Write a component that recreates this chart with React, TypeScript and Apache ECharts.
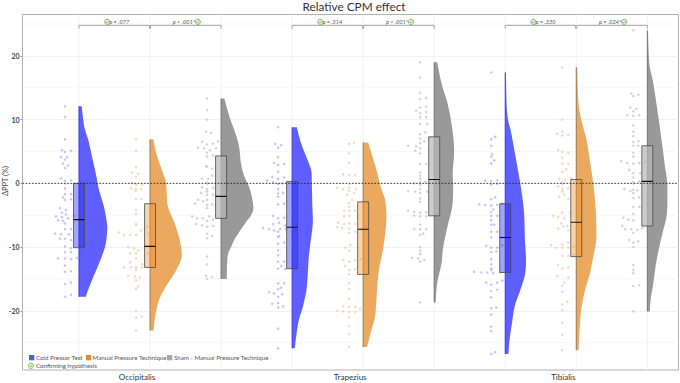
import React, { useEffect, useRef } from "react";
import * as echarts from "echarts";

const FONT = "Lato, 'Open Sans', sans-serif";
const muscles = ["Occipitalis", "Trapezius", "Tibialis"];
const conditions = ["Cold Pressor Test", "Manual Pressure Technique", "Sham - Manual Pressure Technique"];
const confirmLabel = "Confirming hypothesis";
const yTicks = [-20, -10, 0, 10, 20];
const yMinor = [-25, -15, -5, 5, 15, 25];
const baselines = [1, 2, 3, 4, 5, 6, 7, 8, 9];
const pLabels = ["p = .077", "p < .001*", "p = .514", "p < .001*", "p = .330", "p = .024*"];

// scatter: [jitter step, ΔPPT]
const pts1 = [[0,12.1],[0,10.4],[0,6.9],[-3,5.2],[6,5.1],[0,4.9],[-4,4.1],[2,4.1],[0,3.7],[-2,3.1],[3,2.8],[0,2.4],[-4,.8],[0,.4],[6,.5],[0,-.8],[0,-1.7],[6,-1.7],[-2,-2.2],[6,-2.5],[0,-2.6],[-5,-3.9],[1,-4.2],[-3,-4.6],[-9,-5.2],[-3,-5.3],[1,-4.9],[3,-5.5],[-7,-5.8],[-2,-5.9],[9,-5.1],[0,-6.3],[6,-7.2],[0,-7.2],[-10,-7.9],[-4,-8],[4,-8],[-5,-8.7],[0,-8.7],[6,-8.9],[0,-9.9],[6,-10.2],[6,-10.8],[0,-10.8],[0,-11.8],[-7,-11.8],[6,-11.9],[12,-11.7],[0,-12.9],[6,-13.8],[0,-13.9],[6,-15.6],[0,-15.8],[0,-17.8],[6,-17.5]];
const pts2 = [[0,6.9],[0,5.1],[0,2.5],[-4,1.7],[2,1.5],[0,1],[-4,0],[6,-.2],[0,-.3],[-5,-.8],[5,-.9],[0,-.9],[0,-1.2],[0,-2.5],[5,-2.5],[0,-4.2],[0,-4.8],[0,-6.5],[-17,-7.7],[-12,-8.1],[-6,-8.1],[0,-6.4],[5,-7.4],[12,-7.9],[0,-8.1],[11,-6.8],[-8,-10],[-2,-10.2],[2,-10.6],[-6,-11],[0,-11],[12,-11],[0,-11.8],[6,-12.7],[-6,-12.4],[-12,-13.2],[-5,-13.2],[0,-13.2],[6,-13.2],[0,-13.6],[-8,-14.5],[-1,-14.6],[4,-14.8],[0,-15.2],[2,-16.2],[0,-16.6],[0,-20],[6,-20.9],[0,-21.1],[0,-23.1]];
const pts3 = [[0,13.3],[0,11.5],[0,10],[-1,8.1],[4,7.9],[-5,6.5],[0,6.1],[6,6.2],[11,6.6],[-9,5.6],[-3,5.5],[3,5.2],[9,5.5],[0,4.8],[0,4.2],[6,4.4],[0,2.6],[5,2.3],[-1,2.7],[5,1.2],[-5,.7],[1,.7],[0,.1],[-5,-.6],[0,-.9],[6,-.7],[-6,-1.5],[0,-1.3],[0,-1.8],[6,-1.8],[0,-2.6],[-9,-2.6],[-4,-2.8],[-12,-3.2],[0,-3.4],[5,-3.3],[9,-3.4],[0,-3.9],[-15,-5.2],[-10,-5.5],[-4,-5.5],[2,-5.2],[0,-5.9],[6,-5.7],[-11,-6.4],[-5,-6.6],[0,-6.8],[6,-6.7],[0,-7.9],[5,-8.3],[0,-8.6],[0,-11.5],[0,-12.7],[-1,-14.5],[5,-14.7],[0,-15]];
const pts4 = [[0,8.8],[-3,6.2],[3,6],[0,5.6],[0,4.1],[-4,3.2],[0,2.9],[6,3],[0,1.8],[6,.9],[-6,1],[0,.7],[-11,.4],[-5,.2],[0,-.1],[4,0],[0,-.9],[0,-1.6],[5,-1.5],[0,-2.1],[6,-3.2],[0,-3.3],[-5,-5.1],[0,-5.5],[6,-5.4],[-5,-6.4],[1,-6.2],[7,-6.6],[-15,-7],[-9,-7.2],[-4,-7.4],[2,-7.2],[8,-7.2],[0,-7.6],[1,-8.3],[0,-8.4],[0,-9.5],[6,-9.3],[0,-10.5],[0,-11.3],[0,-12.3],[6,-12.3],[3,-13],[0,-13.4],[7,-13.5],[0,-15.7],[6,-15.7],[3,-16.4],[0,-16.6],[-9,-17.1],[-4,-17.3],[4,-17.4],[0,-17.8],[-6,-18.9],[0,-18.8],[0,-19.5],[5,-19.3],[0,-22.8],[0,-25.9]];
const pts5 = [[0,6.2],[5,6.4],[0,4.7],[0,3.2],[-6,1.4],[0,1.3],[6,1.3],[-12,-.7],[-6,-.9],[0,-.7],[7,-.9],[0,-1.2],[5,-1.5],[-2,-1.8],[3,-2.6],[0,-3.1],[0,-3.7],[-5,-4.3],[0,-4.3],[6,-4.3],[0,-5.1],[-5,-5.2],[-11,-6.2],[-5,-6.4],[0,-6.3],[6,-6.4],[-12,-6.9],[-7,-7],[0,-7.1],[0,-7.8],[6,-7.6],[12,-7.2],[1,-9.7],[-4,-10.1],[0,-10.6],[-6,-12],[0,-12.3],[6,-12.1],[12,-11.9],[-4,-13],[0,-13.6],[6,-13.5],[0,-14.3],[0,-15.7],[0,-16.6],[0,-18.1],[-6,-19.3],[0,-19.4],[6,-19.4],[-12,-20],[-6,-20.1],[0,-20.2],[6,-20.2],[11,-19.7],[0,-21],[0,-22.4],[0,-23.7],[0,-25.7]];
const pts6 = [[0,19],[0,16.6],[0,14.2],[0,13.2],[6,13.4],[0,11.9],[6,12],[-4,11.4],[0,11],[6,11.2],[0,10.4],[6,10.4],[0,9.3],[7,9.3],[0,7.7],[5,8],[0,7],[0,6.3],[4,6.6],[-4,5.8],[-12,5.9],[-5,5.1],[0,5.5],[0,4.7],[0,3],[6,3],[0,1.7],[0,1.2],[0,.7],[-6,0],[0,.2],[0,-.3],[5,.2],[0,-.9],[-12,-1.2],[-5,-1.3],[0,-1.5],[0,-2.4],[7,-1.3],[0,-2.9],[-12,-4.3],[-6,-4.5],[0,-4.6],[6,-4.5],[0,-5.2],[-6,-5.1],[6,-5.2],[0,-6.5],[-6,-7.2],[0,-7.2],[6,-7.2],[3,-7.9],[0,-8.1],[0,-10],[0,-10.6],[0,-11.1],[-8,-11.7],[-2,-11.8],[0,-12.3],[4,-12],[0,-18.7]];
const pts7 = [[0,17.4],[0,6.9],[4,7.3],[0,5.9],[1,4.6],[0,4.2],[3,3.6],[0,3.1],[-6,.4],[0,.4],[6,.5],[0,-.2],[6,-.1],[4,-2.2],[0,-2.5],[-12,-3.3],[-6,-3.4],[0,-3.5],[6,-3.4],[11,-3.2],[2,-4.1],[0,-4.5],[6,-5.1],[0,-5.1],[0,-5.8],[3,-6.5],[0,-6.5],[0,-7.6],[6,-7.6],[0,-8.5],[11,-8.5],[-5,-9.8],[11,-9.7],[0,-10.1],[6,-10.1],[0,-10.8],[5,-10.7],[0,-11.9],[0,-12.7],[0,-13.4],[-17,-13.9],[-10,-14],[-4,-14],[0,-13.6],[2,-14.1],[9,-14],[-5,-15.6],[0,-15.9],[6,-15.6],[11,-15.3],[6,-16.7],[0,-16.9],[0,-17.9],[0,-19.6],[5,-19.5],[0,-20.6],[0,-22.5],[0,-23.2],[0,-26.8],[4,-26.5]];
const pts8 = [[0,18.2],[0,10],[-5,7.8],[0,8.1],[0,7.5],[6,7.6],[-4,5.2],[6,4.8],[0,4.9],[0,4],[0,3.1],[6,3.1],[4,2.2],[0,1.8],[-3,.7],[3,.5],[9,.8],[0,.2],[-4,-.5],[6,-.8],[0,-.9],[0,-1.3],[2,-1.8],[-3,-2.1],[6,-2.5],[-9,-5.1],[0,-4.6],[-4,-5.3],[2,-5.5],[8,-4.6],[-1,-6.3],[5,-6.7],[1,-6.8],[-4,-7.1],[6,-7.4],[-11,-9.7],[-6,-10.1],[0,-10.1],[6,-9.3],[6,-10.1],[0,-9.6],[12,-10],[0,-11.4],[6,-11.4],[12,-11.2],[-4,-12.8],[0,-13.4],[6,-13.2],[-5,-14.6],[6,-14.8],[2,-15.6],[0,-16.1],[0,-17],[0,-19],[5,-18.6],[0,-19.9],[0,-21.9],[0,-23.8],[0,-26.2]];
const pts9 = [[0,24],[-2,14.1],[0,13.7],[5,13.9],[-3,11.9],[3,11.7],[0,11.3],[-6,10.7],[0,10.6],[6,10.7],[0,9.1],[0,8.1],[0,7.4],[5,6.6],[0,6.5],[0,5.9],[5,5.9],[0,4.8],[0,4.2],[-12,3.5],[-6,3.2],[0,3.1],[6,3.2],[12,3.4],[-4,2.1],[0,1.6],[7,1.6],[0,.9],[0,.2],[6,.3],[-9,-.9],[0,-1],[-3,-1.2],[0,-1.5],[4,-1.1],[0,-2.3],[6,-2.2],[0,-3.7],[6,-3.7],[0,-4.8],[-10,-5.4],[-5,-5.7],[0,-5.8],[-11,-6.7],[-8,-7.2],[-2,-7.2],[4,-7.3],[0,-7.8],[9,-7],[-4,-8.9],[5,-9.1],[0,-9.3],[0,-10],[0,-12.8],[0,-13.6],[0,-14.1],[0,-16.1],[6,-16],[0,-20.1]];
const pointGroups = [pts1, pts2, pts3, pts4, pts5, pts6, pts7, pts8, pts9];

// half-violin density outlines: [ΔPPT, density]
const vio1 = [[12.1,2.7],[8.9,5.3],[6.8,9.3],[4.2,13],[1.6,16.7],[0,18.7],[-1,20],[-3.7,25],[-6.3,28],[-7.9,28],[-10,26],[-12.6,20],[-15.2,13],[-16.8,9],[-17.8,7]];
const vio2 = [[6.9,3.3],[4.7,6.3],[2.6,10.7],[.5,15.5],[-1,16.5],[-3.7,18],[-6.3,24.7],[-8.9,29.7],[-11.5,31.7],[-13.6,26.3],[-15.7,18],[-17.8,10.3],[-19.9,6.3],[-22,4.3],[-23.1,3.7]];
const vio3 = [[13.3,3.3],[10.5,8.3],[8,14],[5.8,18],[3,20],[1,23.5],[-1,29],[-3.7,32.3],[-5,30],[-6.3,24],[-8.4,15],[-10,10],[-11.5,6.5],[-15,5.7]];
const vio4 = [[8.8,4.7],[6.3,9],[4.2,14],[2.1,19],[0,19.7],[-3.7,20.3],[-6.3,20.7],[-8.9,18.7],[-11.5,16.7],[-14.1,15.7],[-16.8,14.3],[-19.4,10.7],[-22,6],[-25.9,2.7]];
const vio5 = [[6.4,5],[4.2,9.3],[2.1,13.3],[-.9,18.3],[-2.6,22],[-5.2,23.3],[-7.9,22],[-10.5,19.7],[-13.1,16.3],[-15.7,14.3],[-18.3,13.3],[-21,11.7],[-23.6,7.3],[-25.7,4]];
const vio6 = [[19,3],[15.7,7.3],[12.6,13.3],[9.4,17.3],[6.3,19.7],[4.2,19.7],[1.6,18.5],[-1,19],[-3.7,18],[-6.3,14],[-10,9],[-12.6,7.3],[-15.7,3],[-18.7,1.5]];
const vio7 = [[17.4,.7],[11,2],[7.9,6],[4.2,10.3],[0,15],[-3.7,18.3],[-6.3,19.3],[-8.9,19.7],[-11.5,20.7],[-14.1,20],[-16.8,15],[-19.4,9.3],[-22,6.7],[-24.6,4.3],[-26.8,3.3]];
const vio8 = [[18.2,1],[13.1,2],[10.5,4.3],[6.8,10.3],[4.2,13],[0,17],[-3.7,19.3],[-6.3,20],[-8.9,20],[-11.5,17],[-14.1,13.7],[-16.8,8.7],[-19.4,5.3],[-22,3.7],[-26.2,2.3]];
const vio9 = [[24,.7],[18.9,2],[15.7,6],[10.5,11],[6.3,14.7],[2.6,17.7],[0,20],[-3.2,20],[-5.2,19.3],[-7.3,16],[-10,12],[-12.6,8.7],[-15.7,6],[-18.3,3.3],[-20.1,2.7]];
const violins = [vio1, vio2, vio3, vio4, vio5, vio6, vio7, vio8, vio9];

// boxes: [q3, median, q1]
const boxes = [[0,-5.7,-10.1],[-3.2,-9.9,-13.2],[4.3,-2.05,-5.5],[.3,-6.9,-13.4],[-2.9,-7.2,-14.3],[7.3,.6,-5.1],[-3.2,-8.5,-14],[.6,-6.1,-11.5],[5.9,.3,-6.7]];

const fills = ["#5f5fff", "#eba960", "#999999"];
const edges = ["#3a3aee", "#9c7a52", "#767676"];
const dots = ["#b4b4fb", "#f5cfa8", "#c8c8c8"];
const boxFills = ["rgba(40,40,235,0.42)", "rgba(240,150,50,0.42)", "rgba(185,185,185,0.72)"];
const legendColors = ["#4f63c8", "#e08a3c", "#a8a8a8"];
const GREEN = "#6cb644";

const X_PX = 71.04;
const Y_MIN = -29.3;
const Y_MAX = 26.5;
const BRACKET_Y = 24.8;
const BRACKET_TIP = 24.27;
const LABEL_Y = 25.35;

function spline(p: number[][]) {
  let d = "";
  for (let i = 0; i < p.length - 1; i++) {
    const a = p[Math.max(i - 1, 0)], b = p[i], c = p[i + 1], e = p[Math.min(i + 2, p.length - 1)];
    const c1 = [b[0] + (c[0] - a[0]) / 6, b[1] + (c[1] - a[1]) / 6];
    const c2 = [c[0] - (e[0] - b[0]) / 6, c[1] - (e[1] - b[1]) / 6];
    d += `C${c1[0]} ${c1[1]} ${c2[0]} ${c2[1]} ${c[0]} ${c[1]}`;
  }
  return d;
}

function checkIcon(cx: number, cy: number) {
  return [
    { type: "circle", shape: { cx, cy, r: 2.6 }, style: { fill: "#eaf6e0", stroke: GREEN, lineWidth: 0.9 } },
    { type: "polyline", shape: { points: [[cx - 1.3, cy], [cx - 0.3, cy + 1.1], [cx + 1.4, cy - 1.1]] }, style: { fill: "none", stroke: GREEN, lineWidth: 0.8 } },
  ];
}

export default function App() {
  const ref = useRef<HTMLDivElement>(null);
  useEffect(() => {
    const chart = echarts.init(ref.current!, null, { renderer: "svg" });
    const series: any[] = [];

    series.push({
      type: "custom", silent: true, clip: true, data: [[1, 0]], z: 1,
      renderItem: (_: any, api: any) => ({
        type: "group",
        children: [
          ...yMinor.map((v) => {
            const a = api.coord([0.2047, v]), b = api.coord([9.439, v]);
            return { type: "line", shape: { x1: a[0], y1: a[1], x2: b[0], y2: b[1] }, style: { stroke: "#f7f7f7", lineWidth: 1 } };
          }),
          ...baselines.map((v) => {
            const a = api.coord([v, Y_MIN]), b = api.coord([v, Y_MAX]);
            return { type: "line", shape: { x1: a[0], y1: a[1], x2: b[0], y2: b[1] }, style: { stroke: "#f2f2f2", lineWidth: 1 } };
          }),
        ],
      }),
    });

    baselines.forEach((b, i) => {
      const c = i % 3;
      series.push({
        type: "custom", silent: true, clip: true, z: 2, data: violins[i].map((r) => [b + r[1] / X_PX, r[0]]),
        renderItem: (p: any, api: any) => {
          if (p.dataIndex !== 0) return { type: "group", children: [] };
          const prof = violins[i];
          const pix = prof.map((r) => api.coord([b + r[1] / X_PX, r[0]]));
          const top = api.coord([b, prof[0][0]]), bot = api.coord([b, prof[prof.length - 1][0]]);
          const d = `M${top[0]} ${top[1]}L${pix[0][0]} ${pix[0][1]}${spline(pix)}L${bot[0]} ${bot[1]}Z`;
          return {
            type: "group",
            children: [
              { type: "path", shape: { pathData: d }, style: { fill: fills[c] } },
              { type: "line", shape: { x1: top[0], y1: top[1], x2: bot[0], y2: bot[1] }, style: { stroke: edges[c], lineWidth: 1 } },
            ],
          };
        },
      });
      series.push({
        type: "scatter", silent: true, z: 3, symbol: "diamond", symbolSize: 3.2,
        itemStyle: { color: dots[c] },
        data: pointGroups[i].map((q) => [b - 14 / X_PX + q[0] / X_PX, q[1]]),
      });
      series.push({
        type: "custom", silent: true, clip: true, z: 4, data: [[b, boxes[i][1]]],
        renderItem: (_: any, api: any) => {
          const [q3, med, q1] = boxes[i];
          const hw = 5.5 / X_PX;
          const tl = api.coord([b - hw, q3]), br = api.coord([b + hw, q1]);
          const m = api.coord([b, med]);
          return {
            type: "group",
            children: [
              { type: "rect", shape: { x: tl[0], y: tl[1], width: br[0] - tl[0], height: br[1] - tl[1] }, style: { fill: boxFills[c], stroke: "#4a4a4a", lineWidth: 0.8 } },
              { type: "line", shape: { x1: tl[0], y1: m[1], x2: br[0], y2: m[1] }, style: { stroke: "#111", lineWidth: 1.1 } },
            ],
          };
        },
      });
    });

    // dotted zero line and significance brackets
    series.push({
      type: "custom", silent: true, clip: false, z: 6, data: [[1, 0]],
      renderItem: (_: any, api: any) => {
        const a = api.coord([0.2047, 0]), b = api.coord([9.439, 0]);
        const kids: any[] = [
          { type: "line", shape: { x1: a[0], y1: a[1], x2: b[0], y2: b[1] }, style: { stroke: "#222", lineWidth: 0.9, lineDash: [1.6, 1.6] } },
        ];
        pLabels.forEach((t, i) => {
          const g = Math.floor(i / 2) * 3;
          const second = i % 2 === 1;
          const from = baselines[g + (second ? 1 : 0)] + (second ? 0.6 / X_PX : 0);
          const to = baselines[g + (second ? 2 : 1)] - (second ? 0 : 0.6 / X_PX);
          const l = api.coord([from, BRACKET_Y]), r = api.coord([to, BRACKET_Y]), tip = api.coord([from, BRACKET_TIP]), lab = api.coord([(from + to) / 2, LABEL_Y]);
          kids.push({ type: "polyline", shape: { points: [[l[0], tip[1]], [l[0], l[1]], [r[0], r[1]], [r[0], tip[1]]] }, style: { fill: "none", stroke: "#9a9a9a", lineWidth: 0.9 } });
          kids.push({ type: "text", style: { text: t, x: lab[0] + (second ? -2 : 5), y: lab[1], align: "center", verticalAlign: "middle", fontFamily: FONT, fontStyle: "italic", fontSize: 5.6, fill: "#555" } });
          kids.push(...checkIcon(lab[0] + (second ? 12 : -7), lab[1]));
        });
        return { type: "group", children: kids };
      },
    });

    const leg: any[] = [];
    const rectX = [29, 86, 167];
    const textX = [36, 92.5, 174];
    conditions.forEach((t, i) => {
      leg.push({ type: "rect", shape: { x: rectX[i], y: 355, width: 5.3, height: 5.3 }, style: { fill: legendColors[i] } });
      leg.push({ type: "text", style: { text: t, x: textX[i], y: 357.8, verticalAlign: "middle", fontFamily: FONT, fontSize: 6.2, fill: "#555" } });
    });
    leg.push(...checkIcon(31, 365.8));
    leg.push({ type: "text", style: { text: confirmLabel, x: 36, y: 365.8, verticalAlign: "middle", fontFamily: FONT, fontSize: 6.2, fill: "#555" } });
    leg.push({ type: "text", x: 5, y: 181, rotation: Math.PI / 2, style: { text: "ΔPPT (%)", x: 0, y: 0, align: "center", verticalAlign: "middle", fontFamily: FONT, fontSize: 7.5, fill: "#444" } });

    chart.setOption({
      animation: false,
      backgroundColor: "#fff",
      title: { text: "Relative CPM effect", left: 354, top: 0.5, padding: 0, textAlign: "center", textStyle: { fontFamily: FONT, fontWeight: "normal", fontSize: 11.8, color: "#333" } },
      grid: { left: 22.5, top: 14.5, width: 656, height: 355.5, show: true, outerBoundsMode: "none", containLabel: false, borderColor: "#b0b0b0", borderWidth: 1, backgroundColor: "transparent" },
      xAxis: {
        type: "value", min: 0.2047, max: 9.439,
        axisLine: { show: false }, splitLine: { show: false },
        axisTick: { show: true, length: 1.5, customValues: baselines.map((b) => b - 14 / X_PX), lineStyle: { color: "#bbb" } },
        axisLabel: {
          customValues: [1, 4, 7].map((b) => b + 1 - 14 / X_PX + 1 / X_PX), margin: 3,
          formatter: (v: number) => muscles[Math.round((v - 1.8) / 3)],
          fontFamily: FONT, fontSize: 8, color: "#333",
        },
      },
      yAxis: {
        type: "value", min: Y_MIN, max: Y_MAX,
        axisLine: { show: false },
        axisTick: { show: true, length: 2, customValues: yTicks, lineStyle: { color: "#999" } },
        axisLabel: { customValues: yTicks, margin: 3, fontFamily: FONT, fontSize: 7, fontWeight: 700, color: "#444" },
        splitLine: { show: true, lineStyle: { color: "#f1f1f1", width: 1 } },
      },
      graphic: { elements: leg.map((e) => ({ ...e, z: 20 })) },
      series,
    });
    return () => chart.dispose();
  }, []);
  return <div ref={ref} style={{ position: "fixed", left: 0, top: 0, width: 680, height: 383 }} />;
}
